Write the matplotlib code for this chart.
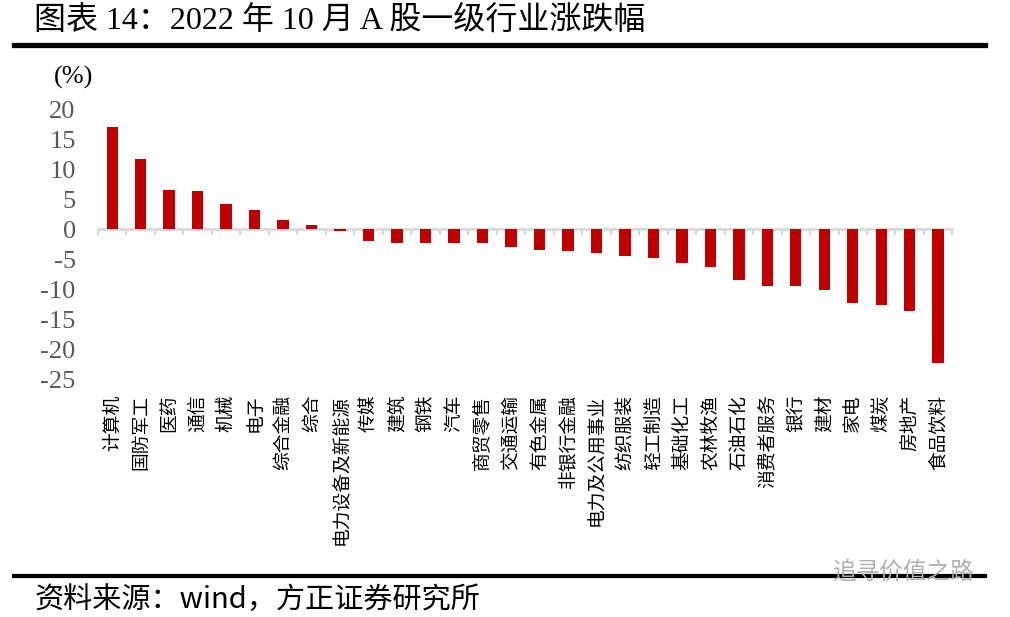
import numpy as np
import matplotlib
matplotlib.use("Agg")
from matplotlib import pyplot as plt

# 2022年10月 A股一级行业涨跌幅 (%)
industries = ["计算机", "国防军工", "医药", "通信", "机械", "电子", "综合金融", "综合",
              "电力设备及新能源", "传媒", "建筑", "钢铁", "汽车", "商贸零售", "交通运输",
              "有色金属", "非银行金融", "电力及公用事业", "纺织服装", "轻工制造", "基础化工",
              "农林牧渔", "石油石化", "消费者服务", "银行", "建材", "家电", "煤炭",
              "房地产", "食品饮料"]
changes = [17.0, 11.7, 6.5, 6.4, 4.3, 3.3, 1.5, 0.8,
           -0.2, -2.0, -2.2, -2.3, -2.3, -2.3, -2.9,
           -3.5, -3.6, -3.9, -4.5, -4.8, -5.7,
           -6.3, -8.4, -9.5, -9.5, -10.2, -12.3, -12.7,
           -13.7, -22.3]
yticks = [20, 15, 10, 5, 0, -5, -10, -15, -20, -25]

SERIF = ["Liberation Serif", "Noto Sans CJK SC"]
CJK = ["Noto Sans CJK SC", "DejaVu Sans"]

fig = plt.figure(figsize=(10.1, 6.17), dpi=100)
ax = fig.add_axes([0.097, 0.3853, 0.846, 0.4375])

x = np.arange(len(industries))
ax.bar(x, changes, width=0.4, color="#c00000", zorder=2)

ax.set_xlim(-0.5, len(industries) - 0.5)
ax.set_ylim(min(yticks), max(yticks))
ax.set_yticks(yticks)
ax.set_yticklabels([str(v) for v in yticks], family=SERIF, fontsize=19, color="#595959")
ax.tick_params(axis="y", length=0, pad=16)

ax.set_xticks(x)
ax.set_xticklabels(industries, rotation=90, family=CJK, fontsize=13.5, color="black")
ax.tick_params(axis="x", length=0, pad=11)
for s in ax.spines.values():
    s.set_visible(False)

# zero line with category boundary ticks
zero_pos = (0 - min(yticks)) / (max(yticks) - min(yticks))
sec = ax.secondary_xaxis(zero_pos)
sec.set_xticks(np.arange(-0.5, len(industries), 1))
sec.set_xticklabels([])
sec.tick_params(axis="x", direction="in", length=4.5, width=1.6, color="#d9d9d9")
for s in sec.spines.values():
    s.set_color("#d9d9d9")
    s.set_linewidth(2)

fig.text(0.053, 0.874, "(%)", family=SERIF, fontsize=19, color="black", va="center")

# title and frame lines
fig.text(0.034, 0.966, "图表 14：2022 年 10 月 A 股一级行业涨跌幅", family=SERIF,
         fontsize=23, color="black", va="center")
fig.add_artist(plt.Line2D([0.014, 0.975], [0.927, 0.927], color="black", lw=3.8))
fig.add_artist(plt.Line2D([0.014, 0.975], [0.066, 0.066], color="black", lw=3))

fig.text(0.034, 0.027, "资料来源：wind，方正证券研究所", family=CJK, fontsize=21,
         style="italic", color="black", va="center")
fig.text(0.965, 0.072, "追寻价值之路", family=CJK, fontsize=17, color="#b0b0b0",
         ha="right", va="center")

fig.savefig("out.png", dpi=100)
